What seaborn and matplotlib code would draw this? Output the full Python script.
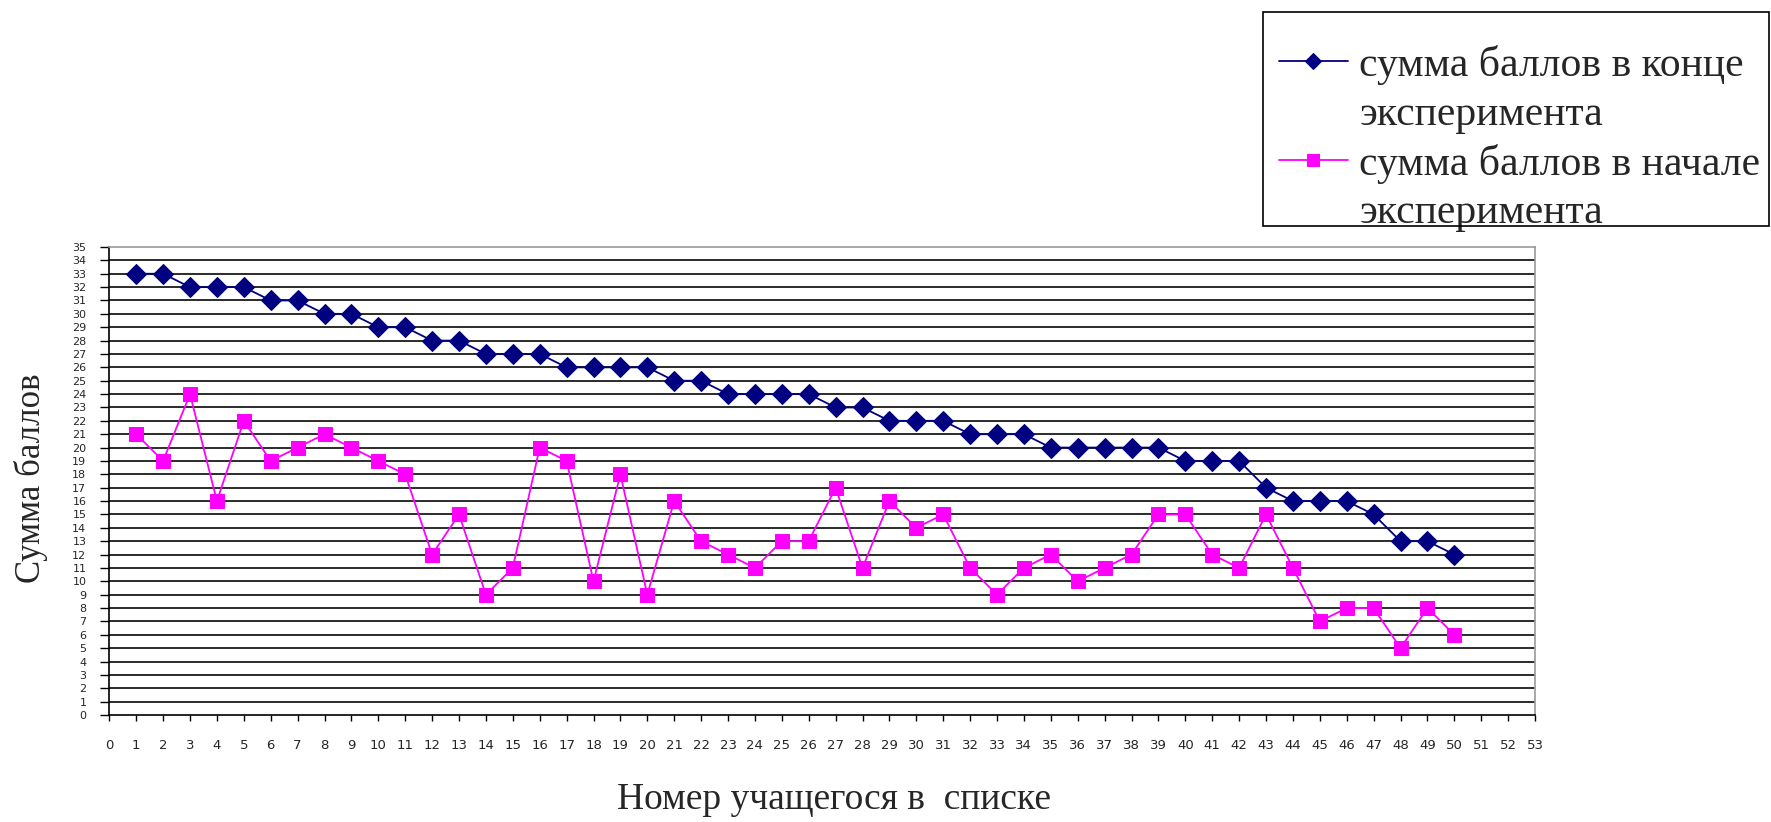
import matplotlib
matplotlib.use("Agg")
import matplotlib.pyplot as plt
from matplotlib.lines import Line2D
from matplotlib.patches import Rectangle
import seaborn as sns
import pandas as pd

# ---- data ----
student_no = list(range(1, 51))
score_end = [33, 33, 32, 32, 32, 31, 31, 30, 30, 29,
             29, 28, 28, 27, 27, 27, 26, 26, 26, 26,
             25, 25, 24, 24, 24, 24, 23, 23, 22, 22,
             22, 21, 21, 21, 20, 20, 20, 20, 20, 19,
             19, 19, 17, 16, 16, 16, 15, 13, 13, 12]
score_start = [21, 19, 24, 16, 22, 19, 20, 21, 20, 19,
               18, 12, 15, 9, 11, 20, 19, 10, 18, 9,
               16, 13, 12, 11, 13, 13, 17, 11, 16, 14,
               15, 11, 9, 11, 12, 10, 11, 12, 15, 15,
               12, 11, 15, 11, 7, 8, 8, 5, 8, 6]
label_end = "сумма баллов в конце\nэксперимента"
label_start = "сумма баллов в начале\nэксперимента"
x_title = "Номер учащегося в  списке"
y_title = "Сумма баллов"
x_ticks = list(range(0, 54))
y_ticks = list(range(0, 36))

df = pd.DataFrame({"num": student_no, "end": score_end, "start": score_start})

sns.set_style("white")
plt.rcParams["font.family"] = ["DejaVu Sans"]

W, H = 1771, 822
fig = plt.figure(figsize=(W / 100, H / 100), dpi=100)
L, R, T, B = 109.3, 1535, 247, 715
ax = fig.add_axes([L / W, 1 - B / H, (R - L) / W, (B - T) / H])

navy = "#000080"
pink = "#FF00FF"

sns.lineplot(data=df, x="num", y="end", ax=ax, color=navy, marker="D",
             markersize=10, markeredgecolor=navy, markerfacecolor=navy,
             linewidth=1.3, label=label_end, zorder=4)
sns.lineplot(data=df, x="num", y="start", ax=ax, color=pink, marker="s",
             markersize=10.5, markeredgecolor=pink, markerfacecolor=pink,
             linewidth=1.3, label=label_start, zorder=3)

ax.set_xlim(0, 53)
ax.set_ylim(0, 35)
ax.set_xticks(x_ticks)
ax.set_yticks(y_ticks)
ax.set_xticklabels([str(v) for v in x_ticks], fontsize=9.5, family="DejaVu Sans")
ax.set_yticklabels([str(v) for v in y_ticks], fontsize=8, family="DejaVu Sans")
ax.tick_params(axis="x", direction="out", length=4.5, width=1, color="black", pad=13, bottom=True)
ax.tick_params(axis="y", direction="out", length=6.5, width=1, color="black", pad=10, left=True)

for v in y_ticks[1:-1]:
    ax.axhline(v, color="#1a1a1a", linewidth=1.3, zorder=1)

for s in ["left", "bottom"]:
    ax.spines[s].set_color("black")
    ax.spines[s].set_linewidth(1.2)
for s in ["top", "right"]:
    ax.spines[s].set_color("#999999")
    ax.spines[s].set_linewidth(1.2)

ax.set_xlabel("")
ax.set_ylabel("")
fig.text(834 / W, 1 - 809 / H, x_title, ha="center", va="baseline",
         fontsize=27, family="Liberation Serif")
fig.text(31 / W, 1 - 478 / H, y_title, ha="center", va="center", rotation=90,
         fontsize=25, family="Liberation Serif")

# legend: each series label on two lines, handle next to first line
handles, labels = ax.get_legend_handles_labels()
blank = Line2D([], [], linestyle="none", marker=None)
leg_handles, leg_labels = [], []
for h, lab in zip(handles, labels):
    first, second = lab.split("\n")
    leg_handles += [h, blank]
    leg_labels += [first, second]
leg = ax.legend(leg_handles, leg_labels, loc="upper left",
                bbox_to_anchor=(1279 / W, 1 - 45 / H),
                bbox_transform=fig.transFigure, frameon=False,
                prop={"family": "Liberation Serif", "size": 30},
                handlelength=1.65, handletextpad=0.28, borderpad=0,
                labelspacing=0.24, borderaxespad=0, markerscale=0.85)
fig.patches.append(Rectangle((1263 / W, 1 - 226 / H), (1769 - 1263) / W, (226 - 12) / H,
                             transform=fig.transFigure, fill=False,
                             edgecolor="black", linewidth=1.2))

fig.savefig("out.png", dpi=100)
